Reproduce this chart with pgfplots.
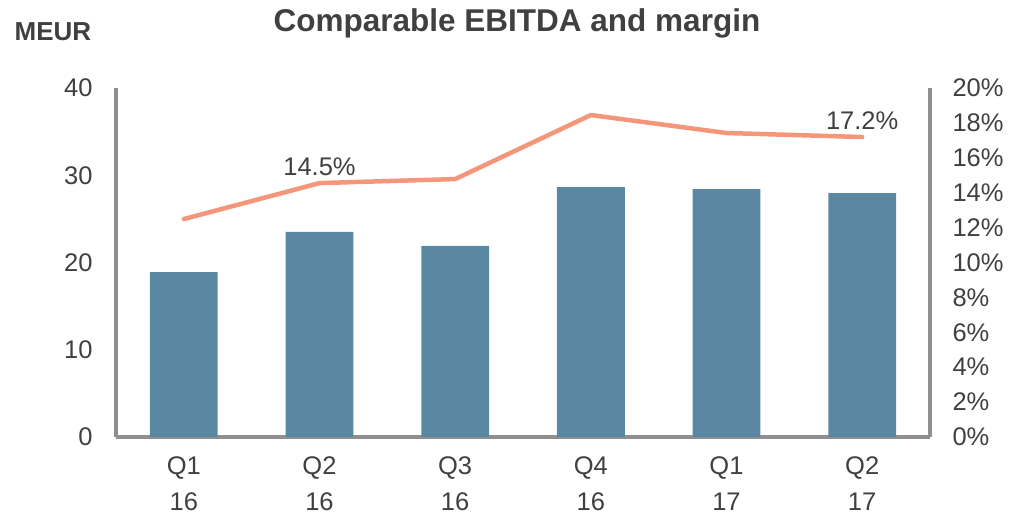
\documentclass[border=0pt]{standalone}
\usepackage{fontspec}
\setmainfont{Liberation Sans}
\usepackage{pgfplots}
\pgfplotsset{compat=1.18}
\definecolor{barblue}{HTML}{5A88A2}
\definecolor{salmon}{HTML}{F4967A}
\definecolor{axgray}{HTML}{8F8F8F}
\definecolor{txt}{HTML}{404040}
\newcommand{\lbl}{\fontsize{25.5}{33}\selectfont}

\begin{document}
\begin{tikzpicture}[x=1pt,y=1pt]
\pgfplotsset{
  every axis/.append style={
    scale only axis, width=814pt, height=349pt,
    at={(0,0)}, anchor=south west,
    xmin=-0.5, xmax=5.5,
    major tick length=0pt,
    axis line style={axgray, line width=4pt, -},
    tick label style={font=\lbl, text=txt},
    /pgf/number format/assume math mode=true,
  },
}
\begin{axis}[
    ymin=0, ymax=40,
    ytick={0,10,...,40},
    axis x line*=bottom, axis y line*=left,
    xtick=data,
    xticklabels={{Q1\\[3pt]16},{Q2\\[3pt]16},{Q3\\[3pt]16},{Q4\\[3pt]16},{Q1\\[3pt]17},{Q2\\[3pt]17}},
    xticklabel style={align=center, yshift=-16pt},
    yticklabel style={xshift=-20pt},
]
\addplot[ybar, bar width=0.5, bar shift=0pt, fill=barblue, draw=none] coordinates {
  (0,18.9) (1,23.5) (2,21.9) (3,28.65) (4,28.4) (5,27.95)
};
\end{axis}
\begin{axis}[
    ymin=0, ymax=20,
    ytick={0,2,...,20},
    yticklabel={\pgfmathprintnumber{\tick}\%},
    axis x line=none, axis y line*=right,
    yticklabel style={xshift=19pt},
]
\addplot[salmon, line width=4.5pt, line join=round, line cap=round] coordinates {
  (0,12.49) (1,14.55) (2,14.78) (3,18.45) (4,17.42) (5,17.19)
};
\addplot[draw=none, point meta=explicit,
  nodes near coords={\pgfmathprintnumber[fixed,fixed zerofill,precision=1,assume math mode=true]{\pgfplotspointmeta}\%},
  nodes near coords style={font=\lbl, text=txt, anchor=south, yshift=4pt}]
  coordinates {(1,14.55) [14.5] (5,17.19) [17.2]};
\end{axis}
\node[font=\fontsize{26}{30}\selectfont\bfseries, text=txt] at (-63,405) {MEUR};
\node[font=\fontsize{31.5}{36}\selectfont\bfseries, text=txt] at (401,414) {Comparable EBITDA and margin};
\pgfresetboundingbox
\path (-116,-77) rectangle (896,437);
\end{tikzpicture}
\end{document}
